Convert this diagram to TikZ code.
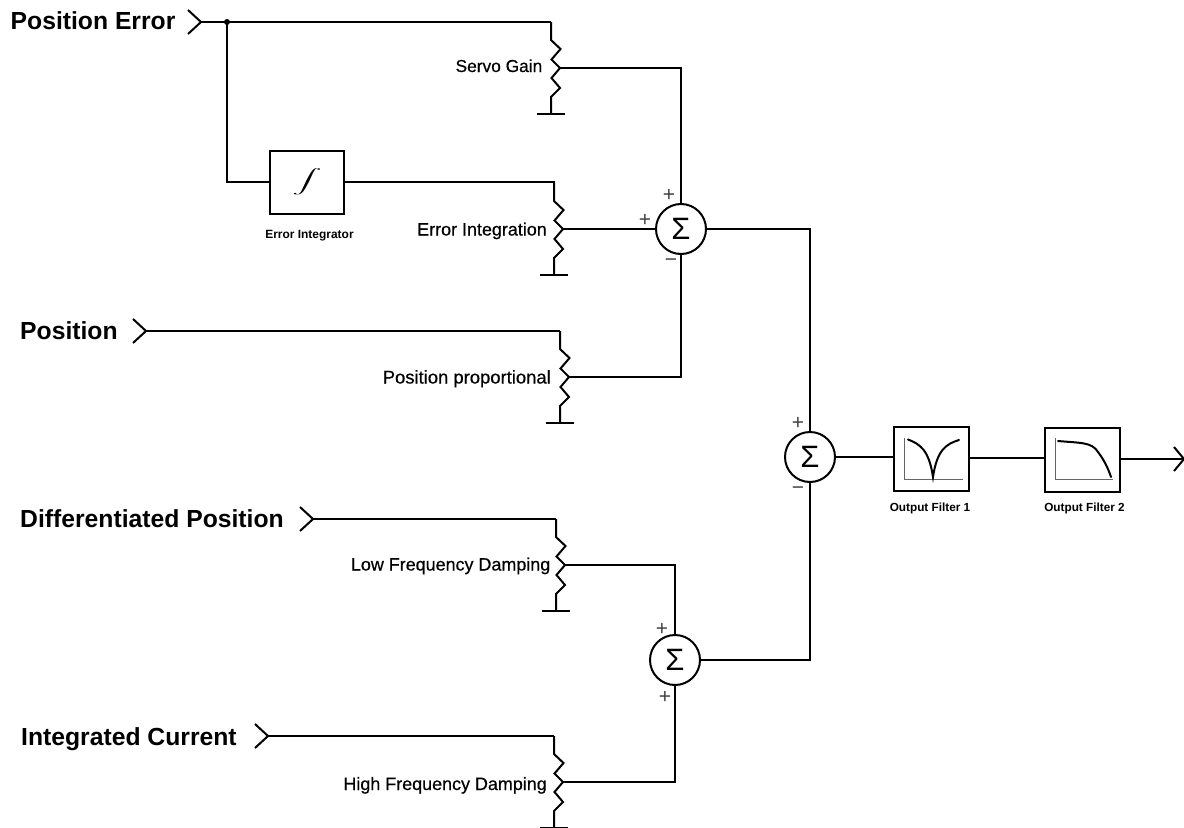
\documentclass[tikz,border=0pt]{standalone}
\usepackage{fontspec}
\setmainfont{Liberation Sans}
\newfontfamily\medfont[FakeBold=0.5]{Liberation Sans}
\usetikzlibrary{calc}
\tikzset{
  wire/.style={line width=2bp,line join=miter,line cap=butt},
  biglabel/.style={anchor=base west,inner sep=0pt,font=\fontsize{24.8}{26}\selectfont\bfseries},
  potlabel/.style={anchor=base east,inner sep=0pt,font=\medfont\fontsize{18}{20}\selectfont},
  tinylabel/.style={anchor=base,inner sep=0pt,font=\fontsize{11.8}{13}\selectfont\bfseries},
  signlabel/.style={inner sep=0pt,text=black!75,font=\fontsize{21}{21}\selectfont},
  sumnode/.style={circle,draw,line width=2bp,minimum size=50bp,inner sep=0pt,fill=white},
  sumsym/.style={inner sep=0pt,font=\fontsize{31}{31}\selectfont},
  blocknode/.style={rectangle,draw,line width=2bp,minimum width=74bp,minimum height=63bp,inner sep=0pt,fill=white},
  axisline/.style={line width=0.8bp,draw=black!60},
  respline/.style={line width=2bp,line cap=round}
}
\newcommand{\potm}[3]{%
  \coordinate (#1t) at (#2,#3);
  \coordinate (#1w) at (#2+9,#3+46);
  \coordinate (#1g) at (#2,#3+92);
  \draw[wire] (#1t) -- ++(0,18) -- ++(9.5,9) -- ++(-9,10.5) -- (#1w) -- ++(-8.5,10) -- ++(8.5,10) -- ++(-9,9) -- (#1g);
  \draw[wire] ($(#1g)+(-14,0)$) -- ($(#1g)+(14,0)$);
}
\newcommand{\chev}[3]{%
  \coordinate (#1) at (#2,#3);
  \draw[wire] ($(#1)+(-13,-12)$) -- (#1) -- ($(#1)+(-13,12)$);
}
\begin{document}
\begin{tikzpicture}[x=1bp,y=-1bp]
\useasboundingbox[fill=white] (0,0) rectangle (1184,828);

% inputs
\node[biglabel] (lA) at (10.5,29) {Position Error};
\node[biglabel] (lB) at (20,339) {Position};
\node[biglabel] (lC) at (20,527.5) {Differentiated Position};
\node[biglabel] (lD) at (21,745) {Integrated Current};
\chev{inA}{201}{22}
\chev{inB}{146}{331}
\chev{inC}{313}{519}
\chev{inD}{268}{736}

% potentiometers
\potm{pA}{551}{22}
\potm{pB}{554}{183}
\potm{pC}{560}{331}
\potm{pD}{556}{519}
\potm{pE}{554}{736}
\node[potlabel,font=\medfont\fontsize{17.4}{20}\selectfont] (tA) at (542.5,72) {Servo Gain};
\node[potlabel] (tB) at (547,235.5) {Error Integration};
\node[potlabel,font=\medfont\fontsize{18.5}{20}\selectfont] (tC) at (551,383.5) {Position proportional};
\node[potlabel] (tD) at (550.5,570.5) {Low Frequency Damping};
\node[potlabel] (tE) at (547,790) {High Frequency Damping};

% blocks
\node[blocknode] (int) at (307,182) {};
\node[xscale=3,yscale=1.2] (intsym) at (307,182) {$\displaystyle\int$};
\node[tinylabel,font=\fontsize{12}{13}\selectfont\bfseries] (tint) at (309.5,238.5) {Error Integrator};
\node[blocknode,minimum width=75bp,minimum height=64bp] (f1) at (931.5,459) {};
\node[blocknode,minimum width=75bp,minimum height=64bp] (f2) at (1082.5,460) {};
\node[tinylabel] (tf1) at (930,511.5) {Output Filter 1};
\node[tinylabel] (tf2) at (1084.5,511) {Output Filter 2};

% response curves
\draw[axisline] (904,438) -- (904,479) -- (963,479);
\draw[respline] (908,439.5) .. controls (920,444) and (929,450) .. (933,477) .. controls (937,450) and (946,444) .. (959,440);
\draw[axisline] (1055,438) -- (1055,479) -- (1113,479);
\draw[respline] (1058,441) .. controls (1080,443) and (1092,442) .. (1098,452) .. controls (1104,460) and (1108,468) .. (1111,477);

% summing junctions
\node[sumnode] (s1) at (681,229) {};
\node[sumnode] (s2) at (810,457) {};
\node[sumnode] (s3) at (675,660) {};
\foreach \s in {s1,s2,s3}{\node[sumsym] (sym\s) at (\s) {Σ};}
\node[signlabel] (p1) at (669,195) {+};
\node[signlabel] (p2) at (645,220.5) {+};
\node[signlabel] (m1) at (671,263) {−};
\node[signlabel] (p3) at (798,423) {+};
\node[signlabel] (m2) at (798,491) {−};
\node[signlabel] (p4) at (662,629) {+};
\node[signlabel] (p5) at (665,697) {+};

% junction dot
\coordinate (jA) at (227,22);
\fill (jA) circle (3bp);

% connectors
\draw[wire] (inA) -- (jA) -- (pAt);
\draw[wire] (jA) |- (int.west);
\draw[wire] (int.east) -- (pBt |- int.east) -- (pBt);
\draw[wire] (inB) -- (pCt);
\draw[wire] (inC) -- (pDt);
\draw[wire] (inD) -- (pEt);
\draw[wire] (pAw) -| (s1.north);
\draw[wire] (pBw) -- (s1.west);
\draw[wire] (pCw) -| (s1.south);
\draw[wire] (pDw) -| (s3.north);
\draw[wire] (pEw) -| (s3.south);
\draw[wire] (s1.east) -| (s2.north);
\draw[wire] (s3.east) -| (s2.south);
\draw[wire] (s2.east) -- (s2.east -| f1.west);
\draw[wire] ([yshift=1bp]f1.east) -- ([yshift=1bp]f1.east -| f2.west);
\coordinate (outp) at (1184,459);
\draw[wire] (f2.east |- outp) -- (outp);
\draw[wire] (1174,447) -- (outp) -- (1174,471);
\end{tikzpicture}
\end{document}
